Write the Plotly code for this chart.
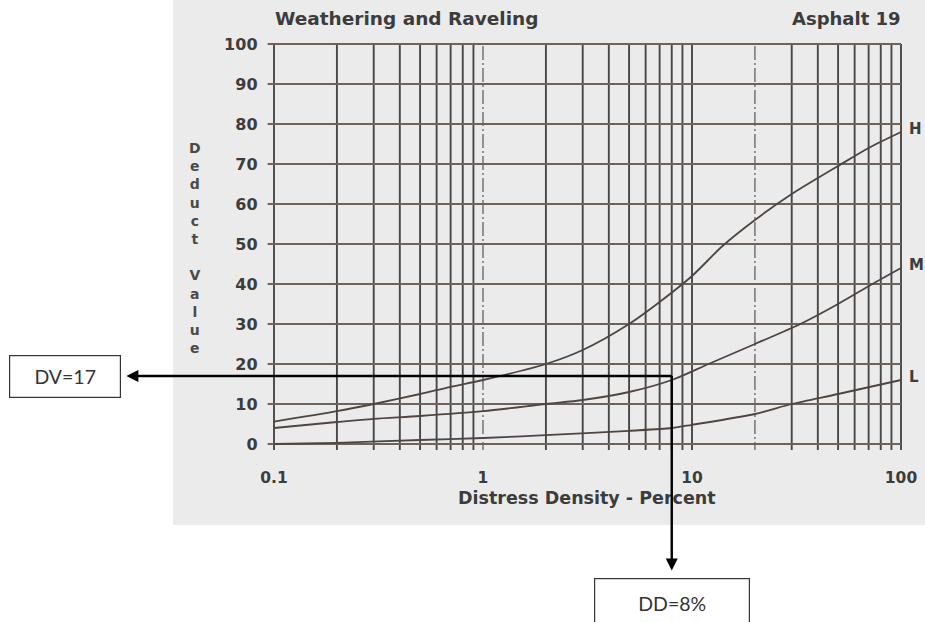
import math
import plotly.graph_objects as go

# ---- data -------------------------------------------------------------
density_high = [0.1, 0.2, 0.3, 0.5, 0.7, 1, 2, 3, 5, 7, 10, 14, 20, 30, 40, 50, 70, 100]
deduct_high = [5.6, 8.2, 10, 12.5, 14.3, 16, 20, 23.5, 30, 35.5, 42, 49.5, 56, 62.5, 66.5, 69.5, 74, 78]

density_med = [0.1, 0.2, 0.3, 0.5, 1, 2, 3, 5, 8, 12, 20, 33, 50, 73, 100]
deduct_med = [4, 5.5, 6.3, 7, 8.2, 10, 11, 13, 16, 20, 25, 30, 35, 40, 44]

density_low = [0.1, 0.2, 0.5, 1, 2, 5, 8, 10, 20, 30, 50, 100]
deduct_low = [0, 0.3, 1, 1.5, 2.2, 3.3, 4, 4.8, 7.5, 10, 12.5, 16]

severity_labels = ["H", "M", "L"]

x_tick_vals = [0.1, 1, 10, 100]
x_tick_text = ["0.1", "1", "10", "100"]
y_tick_vals = [0, 10, 20, 30, 40, 50, 60, 70, 80, 90, 100]

grid_x_solid = [0.1, 0.2, 0.3, 0.4, 0.5, 0.6, 0.7, 0.8, 0.9,
                2, 3, 4, 5, 6, 7, 8, 9, 10,
                30, 40, 50, 60, 70, 80, 90, 100]
grid_x_dashed = [1, 20]
grid_y = y_tick_vals

# worked example
example_dd = 8
example_dv = 17

# ---- page geometry ------------------------------------------------------
W, H = 925, 622
X0_PX = 274.0      # pixel column of density 0.1
PX_DEC = 209.0     # pixels per decade
Y0_PX = 444.0      # pixel row of deduct 0
PX_UNIT = 4.0      # pixels per deduct point
X_RANGE = [-1.03, 2.01]
Y_RANGE = [-1.5, 101]

def px_x(log_v):
    return X0_PX + (log_v + 1) * PX_DEC

def px_y(v):
    return Y0_PX - v * PX_UNIT

x_dom = [px_x(X_RANGE[0]) / W, px_x(X_RANGE[1]) / W]
y_dom = [(H - px_y(Y_RANGE[0])) / H, (H - px_y(Y_RANGE[1])) / H]

INK = "#3c3c3c"
VGRID = "#474747"
HGRID = "#6f6359"
CURVE = "#4f4540"
BOLD = "DejaVu Sans"

fig = go.Figure()

# vertical rulings
def vlines(vals):
    xs, ys = [], []
    for v in vals:
        xs += [v, v, None]
        ys += [-3, 100, None]
    return xs, ys

xs, ys = vlines(grid_x_solid)
fig.add_trace(go.Scatter(x=xs, y=ys, mode="lines",
                         line=dict(color=VGRID, width=1.9),
                         hoverinfo="skip", showlegend=False))
xs, ys = vlines(grid_x_dashed)
fig.add_trace(go.Scatter(x=xs, y=ys, mode="lines",
                         line=dict(color="#6a6a6a", width=1.4, dash="14px,3px,2px,3px"),
                         hoverinfo="skip", showlegend=False))

# horizontal rulings
hx, hy = [], []
for v in grid_y:
    hx += [0.05, 100, None]
    hy += [v, v, None]
fig.add_trace(go.Scatter(x=hx, y=hy, mode="lines",
                         line=dict(color=HGRID, width=1.8),
                         hoverinfo="skip", showlegend=False))

# severity curves
for xs_c, ys_c in [(density_high, deduct_high),
                   (density_med, deduct_med),
                   (density_low, deduct_low)]:
    fig.add_trace(go.Scatter(x=xs_c, y=ys_c, mode="lines",
                             line=dict(color=CURVE, width=1.8,
                                       shape="spline", smoothing=0.8),
                             hoverinfo="skip", showlegend=False))

annotations = []

# severity labels at the right end of each curve
for lab, yv in zip(severity_labels, [deduct_high[-1], deduct_med[-1], deduct_low[-1]]):
    annotations.append(dict(x=2.0, y=yv, xref="x", yref="y", text=lab,
                            showarrow=False, xanchor="left", xshift=6,
                            yshift=3,
                            font=dict(family=BOLD, size=15, color=INK, weight="bold")))

# titles
annotations.append(dict(x=273 / W, y=(H - 18) / H, xref="paper", yref="paper",
                        text="Weathering and Raveling", showarrow=False,
                        xanchor="left", yanchor="middle",
                        font=dict(family=BOLD, size=18.5, color=INK, weight="bold")))
annotations.append(dict(x=903 / W, y=(H - 18) / H, xref="paper", yref="paper",
                        text="Asphalt 19", showarrow=False,
                        xanchor="right", yanchor="middle",
                        font=dict(family=BOLD, size=18, color=INK, weight="bold")))
annotations.append(dict(x=587 / W, y=(H - 498) / H, xref="paper", yref="paper",
                        text="Distress Density - Percent", showarrow=False,
                        xanchor="center", yanchor="middle",
                        font=dict(family=BOLD, size=17.5, color=INK, weight="bold")))
annotations.append(dict(x=195 / W, y=(H - 248) / H, xref="paper", yref="paper",
                        text="D<br>e<br>d<br>u<br>c<br>t<br> <br>V<br>a<br>l<br>u<br>e",
                        showarrow=False, xanchor="center", yanchor="middle",
                        font=dict(family=BOLD, size=14, color="#4a4a4a", weight="bold")))

# worked example: DV box on the left, DD box below
tip_x = px_x(math.log10(example_dd))
tip_y = px_y(example_dv)
annotations.append(dict(
    x=math.log10(example_dd), y=example_dv, xref="x", yref="y",
    text=f"DV={example_dv}", showarrow=True,
    ax=65 - tip_x, ay=0, axref="pixel", ayref="pixel",
    arrowside="start", startarrowhead=2, startarrowsize=1.0,
    arrowwidth=2.4, arrowcolor="#000000", startstandoff=6,
    width=106, height=37, borderpad=2,
    bordercolor="#333333", borderwidth=1.2, bgcolor="#ffffff",
    font=dict(family="Lato", size=19.5, color="#333333")))
annotations.append(dict(
    x=math.log10(example_dd), y=example_dv, xref="x", yref="y",
    text=f"DD={example_dd}%", showarrow=True,
    ax=0, ay=603 - tip_y, axref="pixel", ayref="pixel",
    arrowside="start", startarrowhead=2, startarrowsize=1.0,
    arrowwidth=2.4, arrowcolor="#000000", startstandoff=8,
    width=150, height=44, borderpad=2,
    bordercolor="#333333", borderwidth=1.2, bgcolor="#ffffff",
    font=dict(family="Lato", size=19.5, color="#333333")))

shapes = [
    # scanned sheet
    dict(type="rect", xref="paper", yref="paper",
         x0=173 / W, x1=1.0, y0=(H - 525) / H, y1=1.0,
         fillcolor="#ebebeb", line=dict(width=0), layer="below"),
]

fig.update_layout(
    width=W, height=H, autosize=False,
    margin=dict(l=0, r=0, t=0, b=0, pad=0, autoexpand=False),
    paper_bgcolor="#ffffff", plot_bgcolor="rgba(0,0,0,0)",
    showlegend=False,
    xaxis=dict(type="log", range=X_RANGE, domain=x_dom, automargin=False,
               showgrid=False, zeroline=False, showline=False,
               tickvals=x_tick_vals, ticktext=x_tick_text,
               ticks="outside", ticklen=13, tickcolor="rgba(0,0,0,0)",
               tickfont=dict(family=BOLD, size=15.5, color=INK, weight="bold")),
    yaxis=dict(range=Y_RANGE, domain=y_dom, automargin=False,
               showgrid=False, zeroline=False, showline=False,
               tickvals=y_tick_vals,
               ticks="outside", ticklen=6, tickcolor="rgba(0,0,0,0)",
               tickfont=dict(family=BOLD, size=16, color=INK, weight="bold")),
    annotations=annotations,
    shapes=shapes,
)

fig.write_html("out.html")
